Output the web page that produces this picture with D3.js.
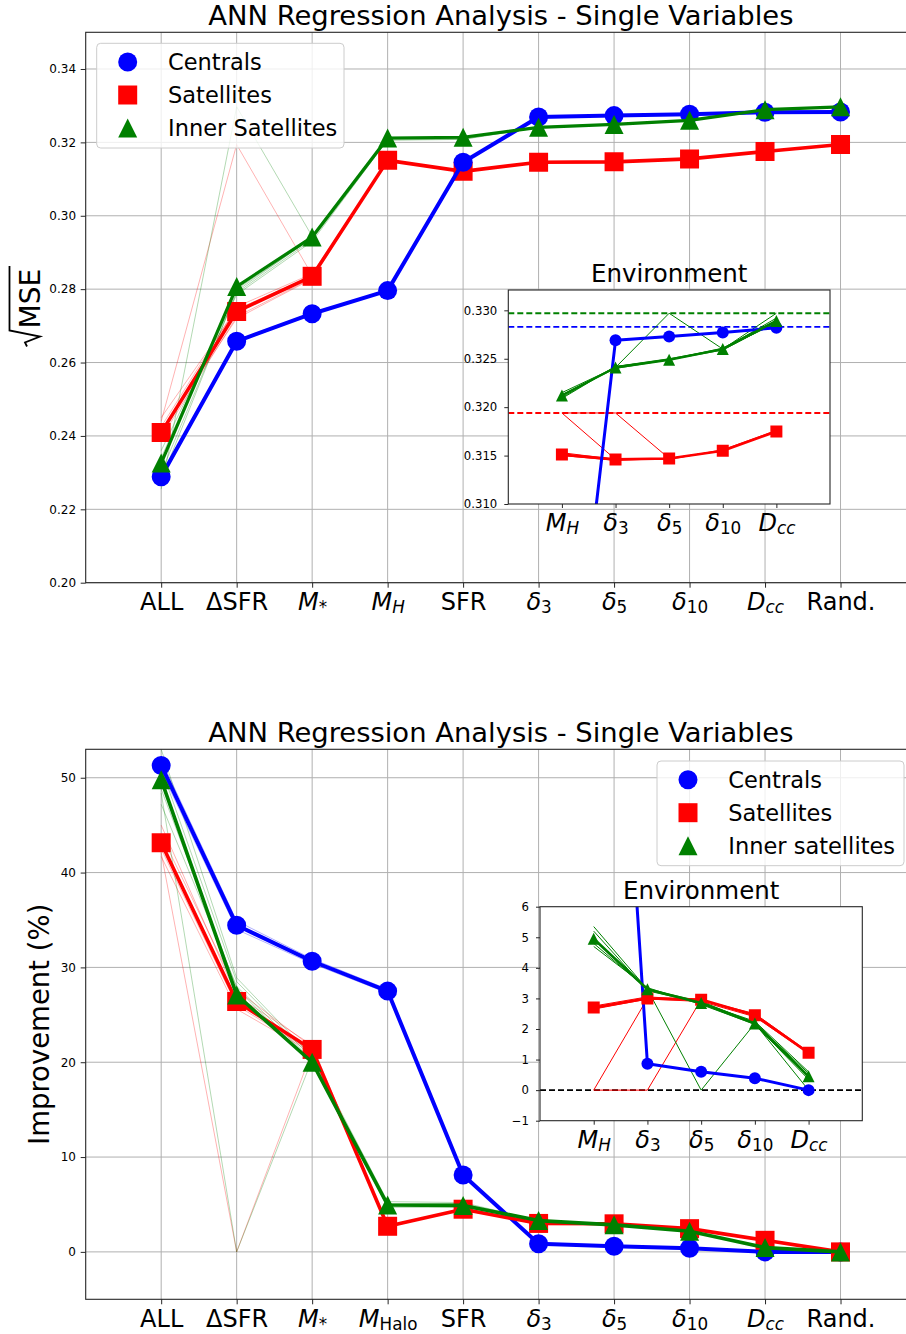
<!DOCTYPE html>
<html>
<head>
<meta charset="utf-8">
<script src="https://cdn.jsdelivr.net/npm/d3@7/dist/d3.min.js"></script>
<style>
  html, body { margin: 0; padding: 0; background: #fff; }
  svg { display: block; }
  text { font-family: "DejaVu Sans", "Noto Sans", sans-serif; fill: #000; }
</style>
</head>
<body>
<svg id="fig" width="906" height="1334" viewBox="0 0 906 1334"></svg>
<script>
// ---------------------------------------------------------------
// Input variables, in x-axis order ("_" marks a subscript, braces = upright)
const variables    = ["ALL", "ΔSFR", "M_*", "M_H", "SFR", "δ_3", "δ_5", "δ_10", "D_cc", "Rand."];
const variablesImp = ["ALL", "ΔSFR", "M_*", "M_{Halo}", "SFR", "δ_3", "δ_5", "δ_10", "D_cc", "Rand."];
// environment zoom: labels and their positions in the full variable list
const envVariables = ["M_H", "δ_3", "δ_5", "δ_10", "D_cc"];
const envPositions = [3, 5, 6, 7, 8];

const legendNames    = ["Centrals", "Satellites", "Inner Satellites"];
const legendNamesImp = ["Centrals", "Satellites", "Inner satellites"];

// sqrt(MSE) of the network trained on each single variable (mean of runs)
const rmseCentrals   = [0.2289, 0.2658, 0.2733, 0.2796, 0.3146, 0.3269, 0.3273, 0.3277, 0.3282, 0.3283];
const rmseSatellites = [0.2409, 0.2739, 0.2835, 0.3151, 0.3121, 0.3146, 0.3147, 0.3155, 0.3175, 0.3194];
const rmseInner      = [0.2326, 0.2807, 0.2942, 0.3212, 0.3214, 0.3241, 0.3249, 0.3260, 0.3289, 0.3297];

// improvement over the random-input baseline (%)
const impCentrals   = [51.3, 34.45, 30.65, 27.5, 8.1, 0.86, 0.60, 0.39, 0.0, 0.0];
const impSatellites = [43.15, 26.4, 21.35, 2.7, 4.5, 3.0, 2.96, 2.45, 1.22, 0.0];
const impInner      = [49.8, 27.1, 20.0, 4.95, 4.9, 3.3, 2.85, 2.18, 0.45, 0.0];

// individual runs (faint lines)
const runsRmseCentrals = [
  [0.2282, 0.2655, 0.2731, 0.2794, 0.3145, 0.3268, 0.3273, 0.3276, 0.3282, 0.3283],
  [0.2296, 0.2661, 0.2736, 0.2798, 0.3148, 0.3270, 0.3274, 0.3278, 0.3282, 0.3283],
  [0.2292, 0.2657, 0.2733, 0.2795, 0.3146, 0.3269, 0.3272, 0.3277, 0.3283, 0.3283]
];
const runsRmseSatellites = [
  [0.2440, 0.3194, 0.2838, 0.3153, 0.3120, 0.3146, 0.3147, 0.3155, 0.3175, 0.3194],
  [0.2395, 0.2725, 0.2830, 0.3150, 0.3122, 0.3147, 0.3148, 0.3154, 0.3176, 0.3194],
  [0.2425, 0.2752, 0.2842, 0.3152, 0.3119, 0.3145, 0.3146, 0.3156, 0.3174, 0.3194],
  [0.2412, 0.2720, 0.2828, 0.3149, 0.3123, 0.3147, 0.3147, 0.3155, 0.3175, 0.3194],
  [0.2450, 0.2745, 0.2836, 0.3151, 0.3121, 0.3146, 0.3148, 0.3155, 0.3176, 0.3194]
];
const runsRmseInner = [
  [0.2255, 0.3297, 0.2944, 0.3210, 0.3212, 0.3242, 0.3249, 0.3260, 0.3288, 0.3297],
  [0.2300, 0.2790, 0.2935, 0.3206, 0.3208, 0.3241, 0.3248, 0.3261, 0.3289, 0.3297],
  [0.2340, 0.2800, 0.2938, 0.3209, 0.3210, 0.3242, 0.3250, 0.3259, 0.3288, 0.3297],
  [0.2360, 0.2785, 0.2930, 0.3207, 0.3209, 0.3240, 0.3249, 0.3260, 0.3290, 0.3297],
  [0.2280, 0.2795, 0.2940, 0.3211, 0.3213, 0.3241, 0.3249, 0.3261, 0.3289, 0.3297]
];
const runsImpCentrals = [
  [51.9, 34.9, 30.9, 27.7, 8.2, 0.9, 0.6, 0.4, 0.0, 0.0],
  [50.7, 34.0, 30.4, 27.3, 8.0, 0.8, 0.6, 0.4, 0.0, 0.0],
  [51.5, 34.6, 30.7, 27.5, 8.1, 0.9, 0.6, 0.4, 0.0, 0.0]
];
const runsImpSatellites = [
  [42.1, 0.0, 21.2, 2.6, 4.6, 3.0, 2.9, 2.5, 1.2, 0.0],
  [45.0, 27.0, 21.8, 2.8, 4.4, 3.0, 3.0, 2.4, 1.3, 0.0],
  [41.7, 25.6, 21.0, 2.7, 4.5, 3.1, 2.9, 2.4, 1.2, 0.0],
  [44.0, 27.6, 21.6, 2.6, 4.5, 2.9, 3.0, 2.5, 1.2, 0.0],
  [42.5, 26.0, 21.1, 2.7, 4.4, 3.0, 2.9, 2.4, 1.3, 0.0]
];
const runsImpInner = [
  [48.4, 0.0, 20.3, 4.9, 4.8, 3.3, 2.8, 2.2, 0.4, 0.0],
  [53.0, 28.9, 20.6, 5.3, 5.2, 3.3, 2.9, 2.2, 0.5, 0.0],
  [47.2, 28.0, 20.2, 4.7, 4.7, 3.35, 2.85, 2.15, 0.4, 0.0],
  [51.0, 28.5, 20.4, 5.1, 5.1, 3.25, 2.85, 2.2, 0.5, 0.0],
  [48.8, 27.8, 19.8, 5.0, 4.9, 3.3, 2.8, 2.25, 0.45, 0.0]
];

// individual runs restricted to the environment variables (thin lines in the zoom)
const envRunsRmseSatellites = [
  [0.3194, 0.3146, 0.3147, 0.3155, 0.3175],
  [0.3194, 0.3194, 0.3147, 0.3155, 0.3175],
  [0.3153, 0.3146, 0.3146, 0.3156, 0.3176],
  [0.3150, 0.3145, 0.3147, 0.3155, 0.3175]
];
const envRunsRmseInner = [
  [0.3212, 0.3241, 0.3297, 0.3260, 0.3297],
  [0.3209, 0.3242, 0.3249, 0.3260, 0.3287],
  [0.3215, 0.3241, 0.3249, 0.3261, 0.3290],
  [0.3210, 0.3242, 0.3250, 0.3260, 0.3292],
  [0.3213, 0.3240, 0.3249, 0.3259, 0.3288]
];
const envRunsImpSatellites = [
  [0.0, 3.0, 2.96, 2.45, 1.22],
  [0.0, 0.0, 2.96, 2.45, 1.22],
  [2.75, 3.05, 2.95, 2.5, 1.25],
  [2.65, 2.98, 2.9, 2.4, 1.2]
];
const envRunsImpInner = [
  [4.95, 3.3, 0.0, 2.18, 0.0],
  [5.35, 3.3, 2.85, 2.2, 0.55],
  [4.7, 3.35, 2.8, 2.15, 0.35],
  [5.2, 3.25, 2.85, 2.25, 0.6],
  [4.8, 3.3, 2.9, 2.2, 0.4]
];

// axis ticks
const rmseTicks    = [0.20, 0.22, 0.24, 0.26, 0.28, 0.30, 0.32, 0.34];
const impTicks     = [0, 10, 20, 30, 40, 50];
const envRmseTicks = [0.310, 0.315, 0.320, 0.325, 0.330];
const envImpTicks  = [-1, 0, 1, 2, 3, 4, 5, 6];

const titleText = "ANN Regression Analysis - Single Variables";
const insetTitle = "Environment";
// ---------------------------------------------------------------

const BLUE = "#0000ff", RED = "#ff0000", GREEN = "#008000";
const GRID = "#b0b0b0", SPINE = "#262626";
const svg = d3.select("#fig");
let clipCount = 0;

function markerPath(shape, cx, cy, s) {
  const h = s / 2;
  if (shape === "square") return `M${cx - h},${cy - h}H${cx + h}V${cy + h}H${cx - h}Z`;
  if (shape === "triangle") return `M${cx},${cy - h}L${cx + h},${cy + h}L${cx - h},${cy + h}Z`;
  return `M${cx + h},${cy}A${h},${h} 0 1,1 ${cx - h},${cy}A${h},${h} 0 1,1 ${cx + h},${cy}Z`;
}

// writes a label such as "M_H", "δ_10" or "M_{Halo}" as italic base + subscript
function mathLabel(sel, label) {
  const m = label.match(/^([^_]+)_(.+)$/);
  if (!m) { sel.append("tspan").text(label); return; }
  let sub = m[2], upright = false;
  if (sub[0] === "{") { sub = sub.slice(1, -1); upright = true; }
  if (/^[0-9*]+$/.test(sub)) upright = true;
  sel.append("tspan").attr("font-style", "italic").text(m[1]);
  sel.append("tspan").attr("font-size", "70%").attr("dy", "0.2em")
    .attr("font-style", upright ? "normal" : "italic").text(sub);
}

function newClip(x0, y0, w, h) {
  const id = "plotclip" + (clipCount++);
  svg.append("defs").append("clipPath").attr("id", id)
    .append("rect").attr("x", x0).attr("y", y0).attr("width", w).attr("height", h);
  return `url(#${id})`;
}

function drawAxes(g, x, y, box, o) {
  // y axis
  const ya = g.append("g").attr("transform", `translate(${box.left},0)`)
    .call(d3.axisLeft(y).tickValues(o.yTicks).tickFormat(o.yFormat)
      .tickSize(o.tickLen).tickSizeOuter(0).tickPadding(o.yPad));
  ya.select(".domain").remove();
  ya.selectAll(".tick line").attr("stroke", SPINE);
  ya.selectAll(".tick text").attr("font-size", o.yFont).attr("font-family", "DejaVu Sans").attr("fill", "#000");
  // x axis
  const xa = g.append("g").attr("transform", `translate(0,${box.bottom})`)
    .call(d3.axisBottom(x).tickFormat(() => "").tickSize(o.tickLen).tickSizeOuter(0).tickPadding(o.xPad));
  xa.select(".domain").remove();
  xa.selectAll(".tick line").attr("stroke", SPINE);
  xa.selectAll(".tick text").each(function (d) {
    const t = d3.select(this).attr("font-size", o.xFont).attr("font-family", "DejaVu Sans").attr("fill", "#000");
    t.text(null);
    mathLabel(t, o.xLabels[d]);
  });
}

function drawSeries(g, x, y, series, opt) {
  const line = d3.line().x((d, i) => x(i)).y(d => y(d));
  // faint individual runs
  series.forEach(s => {
    (s.runs || []).forEach(r => {
      g.append("path").attr("d", line(r)).attr("fill", "none")
        .attr("stroke", s.color).attr("stroke-width", opt.runWidth)
        .attr("stroke-opacity", opt.runOpacity).attr("stroke-linejoin", "round");
    });
  });
  // mean lines with markers
  opt.order.forEach(k => {
    const s = series[k];
    g.append("path").attr("d", line(s.values)).attr("fill", "none")
      .attr("stroke", s.color).attr("stroke-width", s.width * opt.widthScale)
      .attr("stroke-linejoin", "round");
    s.values.forEach((v, i) => {
      g.append("path").attr("d", markerPath(s.shape, x(i), y(v), opt.markerSize))
        .attr("fill", s.color);
    });
  });
}

function drawPanel(p) {
  const g = svg.append("g");
  const box = p.box;
  const idx = d3.range(p.series[0].values.length);
  const x = d3.scalePoint().domain(idx).range([box.left, box.right]).padding(1);
  const y = d3.scaleLinear().domain(p.yDomain).range([box.bottom, box.top]);

  // grid
  const grid = g.append("g").attr("stroke", GRID).attr("stroke-width", 1);
  p.yTicks.forEach(t => grid.append("line").attr("x1", box.left).attr("x2", box.right)
    .attr("y1", y(t)).attr("y2", y(t)));
  idx.forEach(i => grid.append("line").attr("x1", x(i)).attr("x2", x(i))
    .attr("y1", box.top).attr("y2", box.bottom));

  // data
  const plot = g.append("g").attr("clip-path", newClip(box.left, box.top, box.right - box.left, box.bottom - box.top));
  drawSeries(plot, x, y, p.series, { runWidth: 1, runOpacity: 0.3, order: p.order, widthScale: 1, markerSize: 19 });

  // frame
  g.append("rect").attr("x", box.left).attr("y", box.top)
    .attr("width", box.right - box.left).attr("height", box.bottom - box.top)
    .attr("fill", "none").attr("stroke", SPINE).attr("stroke-width", 1.1);

  drawAxes(g, x, y, box, {
    yTicks: p.yTicks, yFormat: p.yFormat, tickLen: 5, yPad: 4.7, xPad: 5.3,
    yFont: 12, xFont: 24, xLabels: p.xLabels
  });

  // title
  g.append("text").attr("x", (box.left + box.right) / 2).attr("y", box.top - 7.3)
    .attr("text-anchor", "middle").attr("font-size", 27.4).text(titleText);

  // legend
  const L = p.legend;
  const lg = g.append("g").attr("transform", `translate(${L.x},${L.y})`);
  lg.append("rect").attr("width", L.w).attr("height", 104.7).attr("rx", 4)
    .attr("fill", "#fff").attr("fill-opacity", 0.8).attr("stroke", "#cccccc").attr("stroke-width", 1);
  p.series.forEach((s, k) => {
    const cy = 18.7 + 33 * k;
    lg.append("path").attr("d", markerPath(s.shape, 31, cy, 19)).attr("fill", s.color);
    lg.append("text").attr("x", 71.3).attr("y", cy + 8).attr("font-size", 22.5).text(p.names[k]);
  });

  // environment zoom
  const I = p.inset;
  const ib = I.box;
  const ig = g.append("g");
  const ix = d3.scalePoint().domain(d3.range(envVariables.length)).range([ib.left, ib.right]).padding(1);
  const iy = d3.scaleLinear().domain(I.yDomain).range([ib.bottom, ib.top]);
  ig.append("rect").attr("x", ib.left).attr("y", ib.top)
    .attr("width", ib.right - ib.left).attr("height", ib.bottom - ib.top).attr("fill", "#fff");
  const iplot = ig.append("g").attr("clip-path", newClip(ib.left, ib.top, ib.right - ib.left, ib.bottom - ib.top));
  // reference levels (random-input baseline)
  I.refs.forEach(r => {
    iplot.append("line").attr("x1", ib.left).attr("x2", ib.right)
      .attr("y1", iy(r.value)).attr("y2", iy(r.value))
      .attr("stroke", r.color).attr("stroke-width", 1.8).attr("stroke-dasharray", "6,3");
  });
  const envSeries = p.series.map((s, k) => ({
    color: s.color, shape: s.shape, width: s.width,
    values: envPositions.map(j => s.values[j]),
    runs: I.runs[k]
  }));
  drawSeries(iplot, ix, iy, envSeries, { runWidth: 1, runOpacity: 1, order: p.order, widthScale: 0.75, markerSize: 12 });
  ig.append("rect").attr("x", ib.left).attr("y", ib.top)
    .attr("width", ib.right - ib.left).attr("height", ib.bottom - ib.top)
    .attr("fill", "none").attr("stroke", SPINE).attr("stroke-width", 1.1);
  drawAxes(ig, ix, iy, ib, {
    yTicks: I.yTicks, yFormat: I.yFormat, tickLen: 4, yPad: 7, xPad: 6,
    yFont: 11.7, xFont: 24, xLabels: envVariables
  });
  ig.append("text").attr("x", (ib.left + ib.right) / 2).attr("y", ib.top - 8)
    .attr("text-anchor", "middle").attr("font-size", 24.5).text(insetTitle);
}

// ---- upper panel: sqrt(MSE) ----
drawPanel({
  box: { left: 85.7, right: 916, top: 32.3, bottom: 582.7 },
  yDomain: [0.20, 0.35], yTicks: rmseTicks, yFormat: d3.format(".2f"),
  xLabels: variables, names: legendNames,
  order: [1, 0, 2],
  series: [
    { color: BLUE,  shape: "circle",   width: 4,   values: rmseCentrals,   runs: runsRmseCentrals },
    { color: RED,   shape: "square",   width: 3.6, values: rmseSatellites, runs: runsRmseSatellites },
    { color: GREEN, shape: "triangle", width: 3.2, values: rmseInner,      runs: runsRmseInner }
  ],
  legend: { x: 96.7, y: 43.3, w: 247.3 },
  inset: {
    box: { left: 508.3, right: 830, top: 290, bottom: 504 },
    yDomain: [0.310, 0.3321], yTicks: envRmseTicks, yFormat: d3.format(".3f"),
    refs: [
      { value: rmseInner[rmseInner.length - 1], color: GREEN },
      { value: rmseCentrals[rmseCentrals.length - 1], color: BLUE },
      { value: rmseSatellites[rmseSatellites.length - 1], color: RED }
    ],
    runs: [[], envRunsRmseSatellites, envRunsRmseInner]
  }
});

// sqrt(MSE) axis label with a radical sign drawn over "MSE"
(function () {
  const lab = svg.append("g").attr("transform", `translate(0,${(32.3 + 582.7) / 2}) rotate(-90)`);
  const t = lab.append("text").attr("x", -21).attr("y", 39.5).attr("font-size", 28).text("MSE");
  const w = t.node().getComputedTextLength();
  const u0 = -39, uEnd = -21 + w + 3;
  lab.append("path")
    .attr("d", `M${u0},27 L${u0 + 4},25 L${u0 + 10},40 L${u0 + 16},9.5 L${uEnd},9.5`)
    .attr("fill", "none").attr("stroke", "#000").attr("stroke-width", 1.8).attr("stroke-linejoin", "miter");
})();

// ---- lower panel: improvement ----
drawPanel({
  box: { left: 85.7, right: 916, top: 749.3, bottom: 1299.3 },
  yDomain: [-5, 53], yTicks: impTicks, yFormat: d3.format("d"),
  xLabels: variablesImp, names: legendNamesImp,
  order: [0, 1, 2],
  series: [
    { color: BLUE,  shape: "circle",   width: 4,   values: impCentrals,   runs: runsImpCentrals },
    { color: RED,   shape: "square",   width: 3.6, values: impSatellites, runs: runsImpSatellites },
    { color: GREEN, shape: "triangle", width: 3.6, values: impInner,      runs: runsImpInner }
  ],
  legend: { x: 657, y: 761, w: 247 },
  inset: {
    box: { left: 540, right: 862.3, top: 906.7, bottom: 1120.7 },
    yDomain: [-1, 6], yTicks: envImpTicks, yFormat: d3.format("d"),
    refs: [{ value: 0, color: "#000" }],
    runs: [[], envRunsImpSatellites, envRunsImpInner]
  }
});

svg.append("text")
  .attr("transform", `translate(49,${(749.3 + 1299.3) / 2}) rotate(-90)`)
  .attr("text-anchor", "middle").attr("font-size", 27.5).text("Improvement (%)");
</script>
</body>
</html>
